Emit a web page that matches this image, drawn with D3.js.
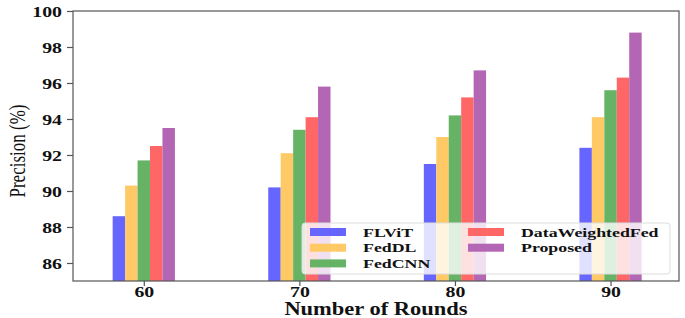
<!DOCTYPE html>
<html>
<head>
<meta charset="utf-8">
<script src="https://cdn.jsdelivr.net/npm/d3@7"></script>
<style>
  html, body { margin: 0; padding: 0; background: #fff; }
  svg { display: block; }
  text { font-family: "Liberation Serif", "Times New Roman", serif; }
</style>
</head>
<body>
<script>
// ---- Data ----
const categories = [60, 70, 80, 90];
const seriesNames = ["FLViT", "FedDL", "FedCNN", "DataWeightedFed", "Proposed"];
const FLViT = [88.6, 90.2, 91.5, 92.4];
const FedDL = [90.3, 92.1, 93.0, 94.1];
const FedCNN = [91.7, 93.4, 94.2, 95.6];
const DataWeightedFed = [92.5, 94.1, 95.2, 96.3];
const Proposed = [93.5, 95.8, 96.7, 98.8];
const yTicks = [86, 88, 90, 92, 94, 96, 98, 100];
const colors = ["#6666ff", "#ffc966", "#66b366", "#ff6666", "#b366b3"];
const seriesValues = [FLViT, FedDL, FedCNN, DataWeightedFed, Proposed];

(function () {
const W = 685, H = 318;
const mLeft = 73, mRight = 679, mTop = 11, mBottom = 281;
const SX = 1.32; // horizontal stretch of the text in the reference

const svg = d3.select("body").append("svg").attr("width", W).attr("height", H);

const x = d3.scaleLinear().domain([55.45, 94.4]).range([mLeft, mRight]);
const y = d3.scaleLinear().domain([85, 100]).range([mBottom, mTop]);
const barW = 12.45; // in px
const unitW = barW / (x(61) - x(60)); // bar width in category units

// bars
seriesValues.forEach((vals, si) => {
  svg.append("g").selectAll("rect").data(vals).join("rect")
    .attr("x", (d, i) => x(categories[i] + (si - 2.5) * unitW))
    .attr("width", (d, i) => x(categories[i] + (si - 1.5) * unitW) - x(categories[i] + (si - 2.5) * unitW))
    .attr("y", d => y(d))
    .attr("height", d => y(85) - y(d))
    .attr("fill", colors[si]);
});

// frame
const axisColor = "#555";
svg.append("rect").attr("x", mLeft).attr("y", mTop).attr("width", mRight - mLeft).attr("height", mBottom - mTop)
  .attr("fill", "none").attr("stroke", axisColor).attr("stroke-width", 1.2);

// y axis
const yAxis = d3.axisLeft(y).tickValues(yTicks).tickSize(6).tickPadding(4).tickFormat(d3.format("d"));
const gy = svg.append("g").attr("transform", `translate(${mLeft},0)`).call(yAxis);
gy.select(".domain").remove();
gy.selectAll(".tick line").attr("stroke", axisColor).attr("stroke-width", 1.2);
gy.selectAll(".tick text").each(function() {
  d3.select(this).attr("x", null).attr("dy", null).attr("text-anchor", "end")
   .attr("font-size", 15).attr("font-weight", "bold").attr("fill", "#111")
   .attr("transform", `translate(-11,5) scale(${SX},1)`);
});

// x axis
const xAxis = d3.axisBottom(x).tickValues(categories).tickSize(5).tickFormat(d3.format("d"));
const gx = svg.append("g").attr("transform", `translate(0,${mBottom})`).call(xAxis);
gx.select(".domain").remove();
gx.selectAll(".tick line").attr("stroke", axisColor).attr("stroke-width", 1.2);
gx.selectAll(".tick text").each(function() {
  d3.select(this).attr("y", null).attr("dy", null).attr("text-anchor", "middle")
   .attr("font-size", 15).attr("font-weight", "bold").attr("fill", "#111")
   .attr("transform", `translate(0,16) scale(${SX},1)`);
});

// axis titles
svg.append("text").text("Number of Rounds")
  .attr("text-anchor", "middle").attr("font-size", 18).attr("font-weight", "bold").attr("fill", "#111")
  .attr("transform", `translate(${(mLeft + mRight) / 2},315) scale(1.25,1)`);

svg.append("text").text("Precision (%)")
  .attr("text-anchor", "middle").attr("font-size", 17).attr("fill", "#111")
  .attr("textLength", 93).attr("lengthAdjust", "spacingAndGlyphs")
  .attr("transform", "translate(25,151) rotate(-90) scale(1,1.3)");

// legend
const lg = svg.append("g");
lg.append("rect").attr("x", 302).attr("y", 223).attr("width", 368).attr("height", 51)
  .attr("rx", 3).attr("fill", "#fff").attr("fill-opacity", 0.8)
  .attr("stroke", "#ddd").attr("stroke-width", 1);
const legendItems = seriesNames.map((n, i) => ({ name: n, color: colors[i], col: i < 3 ? 0 : 1, row: i < 3 ? i : i - 3 }));
const colX = [310, 468], textX = [363, 521];
const items = lg.selectAll("g.item").data(legendItems).join("g").attr("class", "item");
items.append("rect")
  .attr("x", d => colX[d.col]).attr("y", d => 232 + d.row * 15.7 - 4)
  .attr("width", 36).attr("height", 8).attr("fill", d => d.color);
items.append("text").text(d => d.name)
  .attr("font-size", 13.5).attr("font-weight", "bold").attr("fill", "#111")
  .attr("transform", d => `translate(${textX[d.col]},${232 + d.row * 15.7 + 4.5}) scale(${SX},1)`);
})();
</script>
</body>
</html>
